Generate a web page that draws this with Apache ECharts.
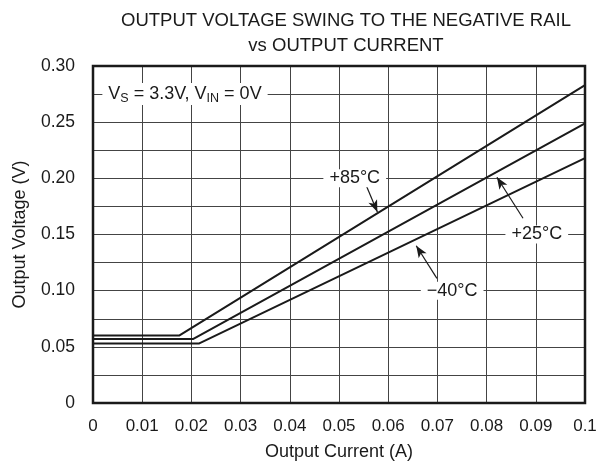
<!DOCTYPE html>
<html><head><meta charset="utf-8">
<script src="https://cdn.jsdelivr.net/npm/echarts@6/dist/echarts.min.js"></script>
<style>html,body{margin:0;padding:0;background:#fff}#c{width:604px;height:468px}</style>
</head><body><div id="c"></div>
<script>
// Data (x = Output Current A, y = Output Voltage V)
const currentP85 = [0, 0.0175, 0.1];
const voltageP85 = [0.060, 0.060, 0.283];
const currentP25 = [0, 0.0204, 0.1];
const voltageP25 = [0.057, 0.057, 0.249];
const currentM40 = [0, 0.0216, 0.1];
const voltageM40 = [0.053, 0.053, 0.218];
const xTicks = ['0','0.01','0.02','0.03','0.04','0.05','0.06','0.07','0.08','0.09','0.1'];
const yTicks = ['0','0.05','0.10','0.15','0.20','0.25','0.30'];

const FONT = 'Liberation Sans, Arial, sans-serif';
const INK = '#1a1a1a';
const pairs = (xs, ys) => xs.map((x, i) => [x, ys[i]]);
const lineSeries = (name, xs, ys) => ({
  name, type: 'line', data: pairs(xs, ys), symbol: 'none', silent: true,
  lineStyle: { color: INK, width: 2 }, z: 5
});
const lbl = (text, x, y) => ({
  coord: [x, y], value: text, symbol: 'circle', symbolSize: 0,
  label: { show: true, position: 'inside', formatter: text, color: INK,
    fontFamily: FONT, fontSize: 18, backgroundColor: '#fff', padding: [0, 6] }
});
const arrow = (x1, y1, x2, y2) => [{ coord: [x1, y1] }, { coord: [x2, y2] }];

const chart = echarts.init(document.getElementById('c'), null, { renderer: 'canvas' });
chart.setOption({
  animation: false,
  title: {
    text: 'OUTPUT VOLTAGE SWING TO THE NEGATIVE RAIL\nvs OUTPUT CURRENT',
    left: 341, top: 3, textAlign: 'center',
    textStyle: { fontFamily: FONT, fontWeight: 'normal', fontSize: 18.5, color: INK, lineHeight: 25 }
  },
  grid: { left: 93, right: 19, top: 66, bottom: 65, show: true, borderColor: INK, borderWidth: 2.5, z: 4 },
  xAxis: {
    type: 'value', min: 0, max: 0.1, interval: 0.01,
    name: 'Output Current (A)', nameLocation: 'middle', nameGap: 40,
    nameTextStyle: { fontFamily: FONT, fontSize: 18, color: INK },
    axisLine: { show: false }, axisTick: { show: false },
    axisLabel: { margin: 15, fontFamily: FONT, fontSize: 17, color: INK,
      formatter: v => xTicks[Math.round(v * 100)] },
    splitLine: { show: true, lineStyle: { color: '#444', width: 1 } }
  },
  yAxis: {
    type: 'value', min: 0, max: 0.3, interval: 0.025,
    name: 'Output Voltage (V)', nameLocation: 'middle', nameGap: 64, nameRotate: 90,
    nameTextStyle: { fontFamily: FONT, fontSize: 18, color: INK },
    axisLine: { show: false }, axisTick: { show: false },
    axisLabel: { margin: 18, fontFamily: FONT, fontSize: 17.5, color: INK,
      formatter: v => { const k = Math.round(v * 1000); return k % 50 === 0 ? yTicks[k / 50] : ''; } },
    splitLine: { show: true, lineStyle: { color: '#444', width: 1 } }
  },
  series: [
    lineSeries('+85°C', currentP85, voltageP85),
    lineSeries('+25°C', currentP25, voltageP25),
    lineSeries('-40°C', currentM40, voltageM40),
    {
      type: 'line', data: [], silent: true, z: 6,
      markLine: {
        silent: true, symbol: ['none', 'arrow'], symbolSize: [7, 12],
        lineStyle: { color: INK, width: 1.2, type: 'solid' }, label: { show: false },
        data: [
          arrow(0.0556, 0.193, 0.0578, 0.170),
          arrow(0.0874, 0.1645, 0.0821, 0.201),
          arrow(0.0699, 0.111, 0.0657, 0.140)
        ]
      },
      markPoint: {
        silent: true,
        data: [
          lbl('+85°C', 0.0532, 0.200),
          lbl('+25°C', 0.0902, 0.150),
          lbl('\u221240°C', 0.0730, 0.100),
          {
            coord: [0.0187, 0.275], symbol: 'circle', symbolSize: 0,
            label: { show: true, position: 'inside', color: INK, fontFamily: FONT, fontSize: 18,
              backgroundColor: '#fff', padding: [0, 6],
              formatter: 'V{s|S} = 3.3V, V{s|IN} = 0V',
              rich: { s: { fontFamily: FONT, fontSize: 12.5, color: INK, padding: [9, 0, 0, 0] } } }
          }
        ]
      }
    }
  ]
});
</script></body></html>
